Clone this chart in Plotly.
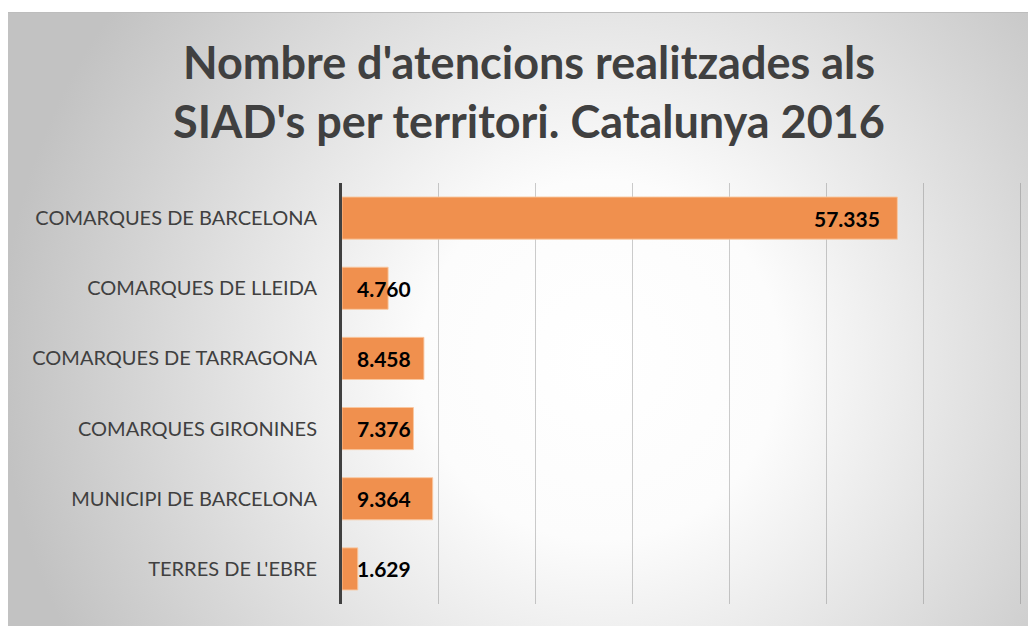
import base64
import plotly.graph_objects as go

categories = [
    "COMARQUES DE BARCELONA",
    "COMARQUES DE LLEIDA",
    "COMARQUES DE TARRAGONA",
    "COMARQUES GIRONINES",
    "MUNICIPI DE BARCELONA",
    "TERRES DE L'EBRE",
]
values = [57335, 4760, 8458, 7376, 9364, 1629]
labels = ["57.335", "4.760", "8.458", "7.376", "9.364", "1.629"]
title_text = "Nombre d'atencions realitzades als<br>SIAD's per territori. Catalunya 2016"

W, H = 1036, 626
ML, MR, MT, MB = 334, 0, 175, 30
PW, PH = W - ML - MR, H - MT - MB

# radial gradient background (chart area starts at 0,4 in figure coords)
bx0, by0 = 0, 4
bw, bh = W - bx0, H - by0
svg = f'''<svg xmlns="http://www.w3.org/2000/svg" width="{bw}" height="{bh}" viewBox="0 0 {bw} {bh}">
<defs><radialGradient id="g" gradientUnits="userSpaceOnUse" cx="{592-bx0}" cy="{352-by0}" r="600">
<stop offset="0" stop-color="#ffffff"/><stop offset="0.3" stop-color="#fcfcfc"/><stop offset="1" stop-color="#c2c2c2"/>
</radialGradient></defs>
<rect x="0" y="0" width="{bw}" height="{bh}" fill="url(#g)"/>
<line x1="0" y1="0.5" x2="{bw}" y2="0.5" stroke="#bdbdbd" stroke-width="1"/>
</svg>'''
src = "data:image/svg+xml;base64," + base64.b64encode(svg.encode()).decode()

fig = go.Figure()
fig.add_trace(go.Bar(
    y=categories, x=values, orientation="h",
    marker=dict(color="#F0904E", line=dict(color="rgba(250,200,160,0.9)", width=1)),
    hoverinfo="skip",
))

lab_font = dict(family="Lato", size=21, color="#000000", weight="bold")
annotations = []
for c, v, t in zip(categories, values, labels):
    if v > 20000:
        annotations.append(dict(x=v, y=c, text=t, xanchor="right", xshift=-15, showarrow=False, font=lab_font))
    else:
        annotations.append(dict(x=0, y=c, text=t, xanchor="left", xshift=13, showarrow=False, font=lab_font))

x_per_px = 70000 / 678
fig.update_layout(
    width=W, height=H,
    margin=dict(l=ML, r=MR, t=MT, b=MB, pad=0),
    paper_bgcolor="#ffffff",
    plot_bgcolor="rgba(0,0,0,0)",
    showlegend=False,
    bargap=0.4,
    title=dict(text=title_text, x=521 / W, xanchor="center", y=1 - 71 / H, yanchor="middle",
               yref="container", font=dict(family="Lato", size=45, color="#404040", weight="bold")),
    xaxis=dict(range=[0, PW * x_per_px], dtick=10000, showgrid=True,
               gridcolor="rgba(110,110,110,0.35)", gridwidth=1, showticklabels=False,
               zeroline=False, showline=False, fixedrange=True),
    yaxis=dict(autorange="reversed", showline=True, linecolor="#404040", linewidth=3,
               showgrid=False, ticks="", ticklabelstandoff=18,
               tickfont=dict(family="Lato", size=20, color="#404040"), fixedrange=True),
    annotations=annotations,
    images=[dict(source=src, xref="paper", yref="paper",
                 x=(bx0 - ML) / PW, y=(H - MB - by0) / PH,
                 sizex=bw / PW, sizey=bh / PH, sizing="stretch",
                 xanchor="left", yanchor="top", layer="below")],
)

fig.write_html("out.html")
